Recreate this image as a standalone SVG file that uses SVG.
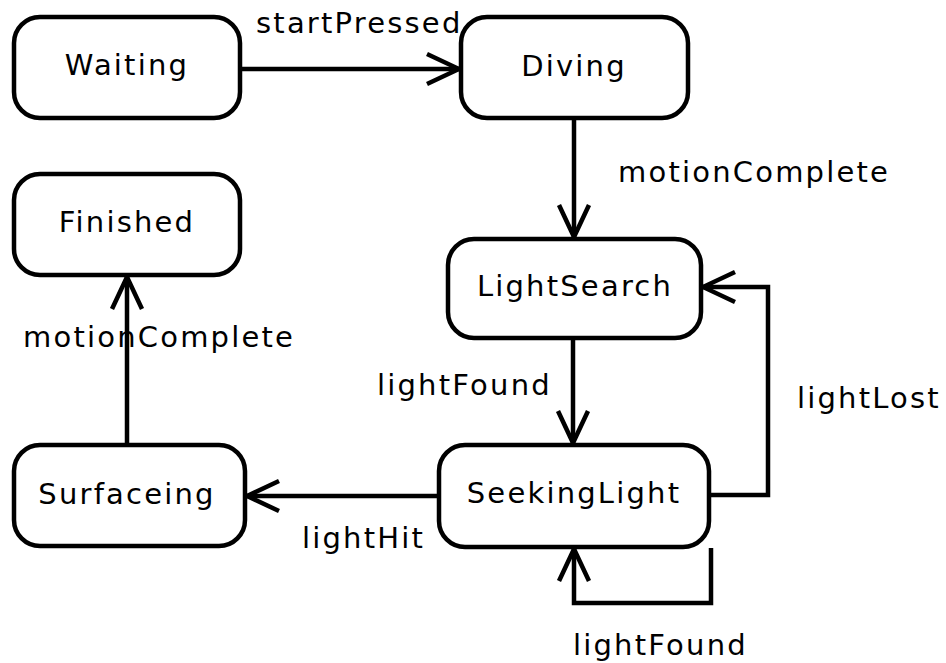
<svg xmlns="http://www.w3.org/2000/svg" width="946" height="663" viewBox="0 0 946 663">
<defs>
<marker id="arr" markerUnits="userSpaceOnUse" viewBox="-36 -20 40 40" markerWidth="40" markerHeight="40" refX="0" refY="0" orient="auto">
<path d="M-32,-15 L0,0 L-32,15" fill="none" stroke="#000" stroke-width="4.5"/>
</marker>
<style>
.node rect{fill:#fff;stroke:#000;stroke-width:4.5}
text{font-family:"DejaVu Sans",sans-serif;font-size:29px;fill:#000;letter-spacing:2.2px}
.node text{text-anchor:middle}
.edge{fill:none;stroke:#000;stroke-width:4.5;marker-end:url(#arr)}
</style>
</defs>
<rect width="946" height="663" fill="#fff"/>
<g id="connectors">
<path class="edge" d="M242,69 H459"/>
<path class="edge" d="M574,120 V237"/>
<path class="edge" d="M573,340 V443"/>
<path class="edge" d="M711,495 H768 V287 H703"/>
<path class="edge" d="M711,548 V603 H574 V549"/>
<path class="edge" d="M437,496 H247"/>
<path class="edge" d="M127,443 V277"/>
<text x="256" y="33">startPressed</text>
<text x="618" y="182">motionComplete</text>
<text x="377" y="395">lightFound</text>
<text x="797" y="408">lightLost</text>
<text x="573" y="655">lightFound</text>
<text x="302" y="548">lightHit</text>
<text x="23" y="347">motionComplete</text>
</g>
<g id="Waiting" class="node"><rect x="14" y="17" width="226" height="101" rx="26"/><text x="127" y="75">Waiting</text></g>
<g id="Diving" class="node"><rect x="461" y="17" width="227" height="101" rx="26"/><text x="574" y="76">Diving</text></g>
<g id="Finished" class="node"><rect x="14" y="174" width="226" height="101" rx="26"/><text x="127" y="232">Finished</text></g>
<g id="LightSearch" class="node"><rect x="448" y="239" width="253" height="99" rx="26"/><text x="575" y="296">LightSearch</text></g>
<g id="Surfaceing" class="node"><rect x="14" y="445" width="231" height="101" rx="26"/><text x="127" y="504">Surfaceing</text></g>
<g id="SeekingLight" class="node"><rect x="439" y="445" width="270" height="102" rx="26"/><text x="574" y="503">SeekingLight</text></g>
</svg>
